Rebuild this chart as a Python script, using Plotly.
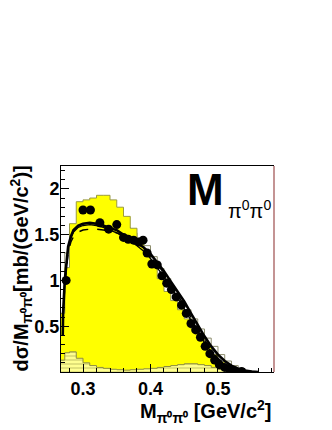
import numpy as np
import plotly.graph_objects as go

# histogram bin edges (GeV/c^2)
edges = [0.266, 0.273] + [round(0.28 + 0.01 * i, 2) for i in range(27)]

# yellow filled MC histogram
mc_fill = [0.64, 1.14, 1.62, 1.86, 1.88, 1.90, 1.93, 1.93, 1.88, 1.80, 1.70, 1.57, 1.44, 1.28,
           1.14, 1.02, 0.88, 0.78, 0.68, 0.58, 0.47, 0.37, 0.28, 0.19, 0.11, 0.07, 0.035, 0.01]
# grey outline histogram
mc_line = [0.64, 1.30, 1.55, 1.60, 1.62, 1.62, 1.66, 1.70, 1.68, 1.62, 1.58, 1.52, 1.46, 1.38,
           1.26, 1.13, 1.02, 0.89, 0.78, 0.68, 0.58, 0.47, 0.37, 0.28, 0.19, 0.12, 0.07, 0.03]
# small hatched histogram at the bottom
mc_bkg = [0.13, 0.21, 0.22, 0.15, 0.10, 0.07, 0.05, 0.04, 0.03, 0.025, 0.02, 0.025, 0.03, 0.035,
          0.04, 0.05, 0.06, 0.07, 0.08, 0.09, 0.09, 0.08, 0.07, 0.05, 0.03, 0.015, 0.005, 0.0]

# data points
data_x = [0.275, 0.300, 0.311, 0.325, 0.338, 0.350, 0.360, 0.367, 0.375, 0.383, 0.389, 0.395,
          0.402, 0.410, 0.417, 0.424, 0.431, 0.438, 0.446, 0.453, 0.460, 0.467, 0.474, 0.481,
          0.488, 0.495, 0.502, 0.510, 0.517, 0.525, 0.535]
data_y = [1.00, 1.77, 1.77, 1.63, 1.56, 1.61, 1.47, 1.45, 1.44, 1.42, 1.44, 1.30,
          1.18, 1.17, 1.05, 0.97, 0.90, 0.82, 0.73, 0.64, 0.53, 0.46, 0.38, 0.28,
          0.20, 0.13, 0.08, 0.05, 0.03, 0.015, 0.005]

# model curves
curve_x = [0.2700, 0.2705, 0.273, 0.2755, 0.278, 0.282, 0.286, 0.293, 0.30, 0.31, 0.32, 0.33,
           0.34, 0.35, 0.36, 0.37, 0.38, 0.39, 0.40, 0.41, 0.42, 0.43, 0.44, 0.45, 0.46, 0.47,
           0.48, 0.49, 0.50, 0.51, 0.52, 0.53, 0.54, 0.55, 0.56]
thick_y = [0.40, 0.64, 1.00, 1.22, 1.37, 1.48, 1.55, 1.60, 1.62, 1.63, 1.62, 1.60,
           1.57, 1.55, 1.50, 1.45, 1.41, 1.36, 1.29, 1.20, 1.10, 0.99, 0.88, 0.77, 0.64, 0.51,
           0.39, 0.28, 0.19, 0.12, 0.07, 0.035, 0.015, 0.005, 0.0]
thin_y = [0.40, 0.62, 0.98, 1.20, 1.35, 1.46, 1.53, 1.58, 1.60, 1.61, 1.60, 1.58,
          1.55, 1.52, 1.48, 1.43, 1.38, 1.32, 1.24, 1.14, 1.04, 0.93, 0.81, 0.69, 0.56, 0.44,
          0.32, 0.22, 0.14, 0.08, 0.04, 0.02, 0.008, 0.002, 0.0]
dash_y = [0.40, 0.60, 0.95, 1.17, 1.31, 1.42, 1.48, 1.53, 1.55, 1.56, 1.56, 1.55,
          1.54, 1.52, 1.49, 1.45, 1.40, 1.35, 1.27, 1.18, 1.08, 0.97, 0.85, 0.73, 0.60, 0.47,
          0.35, 0.24, 0.15, 0.09, 0.05, 0.02, 0.008, 0.002, 0.0]


def step(vals):
    return [edges[0]] + edges, [0] + vals + [0]


fig = go.Figure()

sx, sy = step(mc_line)
fig.add_trace(go.Scatter(x=sx, y=sy, mode='lines', line_shape='hv',
                         line=dict(color='#8c8c6c', width=1)))
sx, sy = step(mc_fill)
fig.add_trace(go.Scatter(x=sx, y=sy, mode='lines', line_shape='hv', fill='tozeroy',
                         fillcolor='#ffff00', line=dict(color='#9a9a40', width=1)))
sx, sy = step(mc_bkg)
fig.add_trace(go.Scatter(x=sx, y=sy, mode='lines', line_shape='hv', fill='tozeroy',
                         fillpattern=dict(shape='-', bgcolor='#ffff90', fgcolor='#a8a850',
                                          size=4, solidity=0.35),
                         line=dict(color='#8c8c40', width=1)))

fig.add_trace(go.Scatter(x=curve_x, y=dash_y, mode='lines',
                         line=dict(color='black', width=1.5, dash='dash')))
fig.add_trace(go.Scatter(x=curve_x, y=thin_y, mode='lines',
                         line=dict(color='black', width=1.3)))
fig.add_trace(go.Scatter(x=curve_x, y=thick_y, mode='lines',
                         line=dict(color='black', width=2.6)))
fig.add_trace(go.Scatter(x=data_x, y=data_y, mode='markers',
                         marker=dict(color='black', size=9)))

tick_font = dict(family='Liberation Sans', size=18, color='black', weight='bold')

# the page body adds an 8px offset, so margins are shifted to compensate
fig.update_layout(
    width=332, height=430, showlegend=False,
    margin=dict(l=53, r=66, t=158, b=66, autoexpand=False),
    paper_bgcolor='white', plot_bgcolor='white',
    xaxis=dict(range=[0.2674, 0.583], tickvals=[0.3, 0.4, 0.5], ticktext=['0.3', '0.4', '0.5'],
               ticks='inside', ticklen=8, tickcolor='black', tickfont=tick_font,
               minor=dict(ticks='inside', ticklen=4, dtick=0.02, tick0=0.3, tickcolor='black'),
               showline=True, linecolor='black', linewidth=1, mirror=True, automargin=False,
               showgrid=False, zeroline=False, ticklabelstandoff=0),
    yaxis=dict(range=[0, 2.25], tickvals=[0.5, 1, 1.5, 2], ticktext=['0.5', '1', '1.5', '2'],
               ticks='inside', ticklen=8, tickcolor='black', tickfont=tick_font,
               minor=dict(ticks='inside', ticklen=4, dtick=0.1, tick0=0, tickcolor='black'),
               showline=True, linecolor='black', linewidth=1, automargin=False,
               showgrid=False, zeroline=False, ticklabelstandoff=-3),
)

# reddish right frame edge
fig.add_shape(type='line', xref='paper', yref='paper', x0=1, x1=1, y0=0, y1=1,
              line=dict(color='#b07070', width=1.5))

# y axis title
fig.add_annotation(xref='paper', yref='paper', x=-0.19, y=0.5, xanchor='center', yanchor='middle',
                   textangle=-90,
                   text='dσ/M<sub>π⁰π⁰</sub>[mb/(GeV/c<sup>2</sup>)]', showarrow=False,
                   font=dict(family='Liberation Sans', size=20, color='black', weight='bold'))
# x axis title
fig.add_annotation(xref='paper', yref='paper', x=1.0, y=-0.19, xanchor='right', yanchor='middle',
                   text='M<sub>π⁰π⁰</sub> [GeV/c<sup>2</sup>]', showarrow=False,
                   font=dict(family='Liberation Sans', size=20, color='black', weight='bold'))
# big label
fig.add_annotation(xref='paper', yref='paper', x=0.58, y=1.014, xanchor='left', yanchor='top',
                   text='M', showarrow=False,
                   font=dict(family='Liberation Sans', size=44, color='black', weight='bold'))
fig.add_annotation(xref='paper', yref='paper', x=0.775, y=0.72, xanchor='left', yanchor='bottom',
                   text='π<sup>0</sup>π<sup>0</sup>', showarrow=False,
                   font=dict(family='Liberation Sans', size=20, color='black'))

fig.write_html("out.html")
